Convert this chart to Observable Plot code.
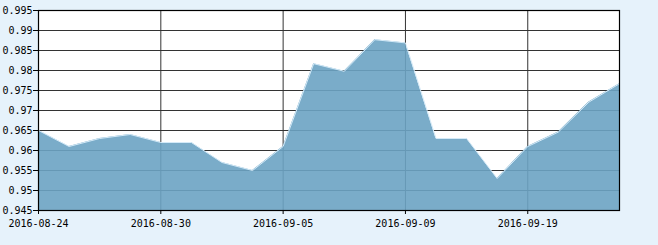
<!DOCTYPE html>
<html>
<head>
<meta charset="utf-8">
<script src="https://cdn.jsdelivr.net/npm/d3@7"></script>
<script src="https://cdn.jsdelivr.net/npm/@observablehq/plot@0.6"></script>
<style>
  html, body { margin: 0; padding: 0; background: #e6f2fb; }
  #chart svg { display: block; }
</style>
</head>
<body>
<div id="chart"></div>
<script>
const dates = ["2016-08-24","2016-08-25","2016-08-26","2016-08-29","2016-08-30","2016-08-31","2016-09-01","2016-09-02","2016-09-05","2016-09-06","2016-09-07","2016-09-08","2016-09-09","2016-09-12","2016-09-13","2016-09-14","2016-09-19","2016-09-20","2016-09-21","2016-09-22"];
const values = [0.965,0.961,0.963,0.964,0.962,0.962,0.957,0.955,0.961,0.9817,0.9798,0.9877,0.9869,0.963,0.963,0.953,0.961,0.9646,0.9721,0.9767];
const xTickLabels = ["2016-08-24","2016-08-30","2016-09-05","2016-09-09","2016-09-19"];
const yTicks = [0.945,0.95,0.955,0.96,0.965,0.97,0.975,0.98,0.985,0.99,0.995];

const data = dates.map((d, i) => ({i, date: d, v: values[i]}));
const xTicks = xTickLabels.map(l => dates.indexOf(l));
const yMin = yTicks[0], yMax = yTicks[yTicks.length - 1];

const chart = Plot.plot({
  width: 658,
  height: 245,
  marginLeft: 38,
  marginRight: 39,
  marginTop: 10,
  marginBottom: 35,
  style: {background: "#e6f2fb", fontFamily: "'DejaVu Sans Mono', monospace", fontSize: "10px", color: "#000"},
  x: {type: "linear", domain: [0, dates.length - 1], ticks: xTicks, tickFormat: i => dates[i], tickSize: 4, tickPadding: 5, label: null},
  y: {domain: [yMin, yMax], ticks: yTicks, tickFormat: d => String(+d.toFixed(3)), tickSize: 5, tickPadding: 1, label: null},
  marks: [
    Plot.rect([0], {x1: 0, x2: dates.length - 1, y1: yMin, y2: yMax, fill: "#ffffff"}),
    Plot.ruleY(yTicks, {stroke: "#333333", strokeWidth: 1}),
    Plot.ruleX(xTicks, {stroke: "#333333", strokeWidth: 1}),
    Plot.areaY(data, {x: "i", y1: yMin, y2: "v", fill: "#6ba3c3", fillOpacity: 0.9}),
    Plot.lineY(data, {x: "i", y: "v", stroke: "#d4eaf8", strokeWidth: 1}),
    Plot.frame({stroke: "#000000", strokeWidth: 1.2}),
    Plot.axisY({ticks: yTicks, tickFormat: d => String(+d.toFixed(3)), tickSize: 5, tickPadding: 1, stroke: "#000", fill: "#000"}),
    Plot.axisX({ticks: xTicks, tickFormat: i => dates[i], tickSize: 4, tickPadding: 5, stroke: "#000", fill: "#000"})
  ]
});
document.getElementById("chart").appendChild(chart);
</script>
</body>
</html>
